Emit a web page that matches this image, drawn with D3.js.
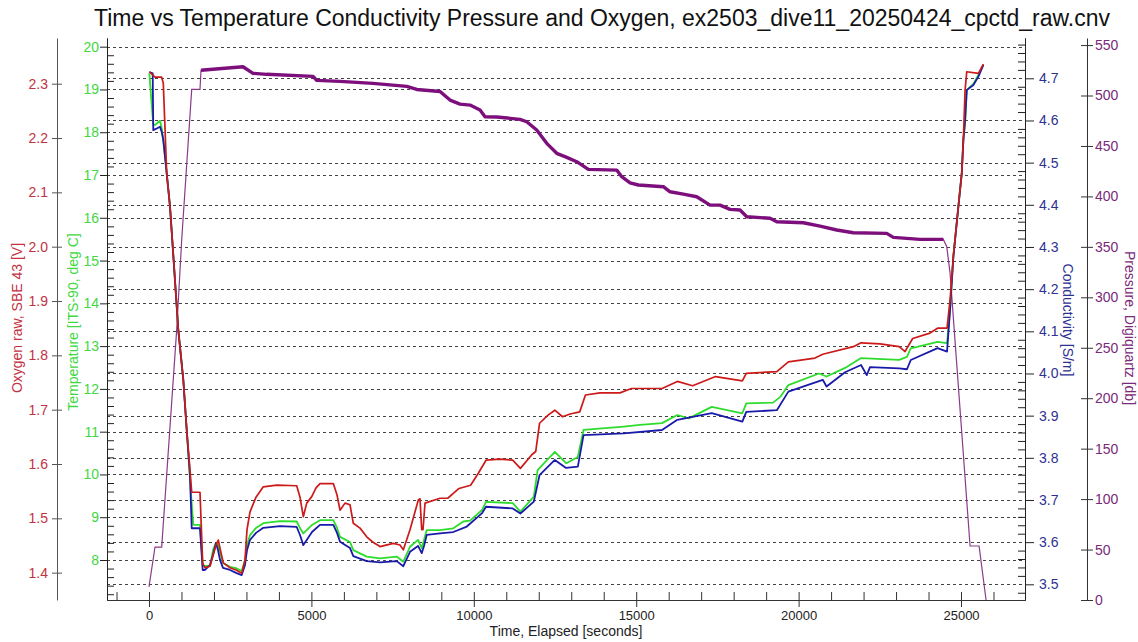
<!DOCTYPE html>
<html>
<head>
<meta charset="utf-8">
<script src="https://cdn.jsdelivr.net/npm/d3@7"></script>
<style>
  body { margin: 0; background: #fff; }
  svg { display: block; font-family: "Liberation Sans", Arial, sans-serif; }
</style>
</head>
<body>
<svg id="chart" width="1138" height="642"></svg>
<script>
// --- data: [elapsed seconds, value] ---
const oxygenData = [
  [10,2.322],[185,2.312],[391,2.312],[440,2.301],[545,2.135],[647,2.074],[717,2.012],[902,1.847],[1056,1.755],[1161,1.663],
  [1262,1.589],[1315,1.548],[1570,1.548],[1653,1.417],[1724,1.409],[1878,1.412],[1971,1.431],[2063,1.451],[2134,1.460],[2186,1.445],
  [2288,1.418],[2494,1.409],[2679,1.405],[2854,1.399],[2956,1.423],[3017,1.479],[3110,1.512],[3295,1.539],[3519,1.558],[3932,1.561],
  [4548,1.560],[4649,1.539],[4751,1.503],[4856,1.528],[5010,1.540],[5142,1.556],[5265,1.564],[5675,1.564],[5789,1.543],[5881,1.515],
  [6035,1.528],[6189,1.525],[6290,1.491],[6497,1.482],[6703,1.466],[6897,1.456],[7112,1.448],[7522,1.454],[7728,1.451],[7830,1.442],
  [8036,1.479],[8292,1.534],[8344,1.536],[8396,1.479],[8436,1.479],[8498,1.528],[8960,1.537],[9197,1.537],[9369,1.546],[9545,1.555],
  [9902,1.561],[10139,1.583],[10376,1.607],[10807,1.609],[11198,1.607],[11435,1.592],[11786,1.617],[11906,1.623],[12024,1.675],[12285,1.690],
  [12495,1.699],[12732,1.687],[12963,1.692],[13261,1.696],[13437,1.727],[13886,1.731],[14499,1.731],[14853,1.739],[15795,1.739],[16266,1.752],
  [16737,1.744],[17443,1.761],[18268,1.753],[18388,1.767],[19330,1.770],[19684,1.788],[20506,1.795],[20743,1.802],[21685,1.816],[21922,1.823],
  [22507,1.821],[23098,1.816],[23277,1.807],[23511,1.831],[24044,1.841],[24278,1.850],[24570,1.850],[24663,1.902],[24764,1.982],[24918,2.074],
  [25023,2.135],[25072,2.196],[25125,2.288],[25177,2.322],[25535,2.319],[25688,2.336]
];

const temperatureData = [
  [10,19.38],[132,18.17],[185,18.17],[339,18.27],[391,18.10],[440,17.82],[545,17.04],[647,16.26],[717,15.48],[902,13.38],
  [1056,12.21],[1161,11.04],[1262,9.87],[1364,8.82],[1570,8.82],[1653,7.88],[1724,7.86],[1878,7.86],[1971,8.23],[2063,8.40],
  [2125,8.35],[2186,8.19],[2278,7.93],[2494,7.84],[2679,7.81],[2854,7.74],[2956,8.00],[3017,8.35],[3110,8.58],[3295,8.75],
  [3519,8.86],[4034,8.91],[4548,8.90],[4649,8.75],[4751,8.62],[4856,8.70],[5019,8.82],[5265,8.93],[5675,8.93],[5789,8.75],
  [5881,8.54],[6189,8.42],[6290,8.23],[6703,8.08],[7112,8.04],[7626,8.08],[7830,7.96],[8036,8.31],[8283,8.47],[8396,8.28],
  [8467,8.47],[8550,8.70],[8960,8.70],[9369,8.74],[9677,8.90],[9884,8.92],[10256,9.17],[10376,9.36],[11198,9.33],[11435,9.13],
  [11848,9.48],[11965,10.10],[12193,10.29],[12495,10.53],[12849,10.26],[13203,10.41],[13378,11.04],[14616,11.12],[15118,11.16],[15795,11.20],
  [16266,11.39],[16620,11.31],[17325,11.58],[18268,11.43],[18388,11.66],[19213,11.68],[19447,11.82],[19684,12.09],[20627,12.36],[20860,12.29],
  [21430,12.49],[21922,12.72],[23098,12.68],[23336,12.75],[23453,12.95],[24278,13.10],[24570,13.07],[24663,13.84],[24764,15.09],[24918,16.26],
  [25023,17.04],[25072,17.82],[25125,18.17],[25177,18.99],[25381,19.13],[25535,19.34],[25688,19.57]
];

const conductivityData = [
  [10,4.715],[114,4.712],[132,4.577],[237,4.581],[339,4.585],[391,4.573],[440,4.554],[545,4.475],[647,4.395],[717,4.316],
  [902,4.103],[1056,3.985],[1161,3.866],[1262,3.759],[1315,3.633],[1570,3.633],[1653,3.534],[1724,3.534],[1878,3.546],[1971,3.570],
  [2063,3.598],[2125,3.581],[2186,3.558],[2278,3.539],[2494,3.534],[2679,3.527],[2854,3.522],[2956,3.546],[3017,3.581],[3110,3.605],
  [3295,3.622],[3519,3.634],[4034,3.638],[4548,3.636],[4649,3.617],[4751,3.593],[4856,3.605],[5019,3.624],[5265,3.641],[5675,3.641],
  [5789,3.622],[5881,3.601],[6189,3.586],[6290,3.567],[6703,3.555],[7112,3.552],[7626,3.555],[7830,3.543],[8036,3.577],[8283,3.591],
  [8396,3.574],[8467,3.591],[8550,3.617],[8960,3.621],[9369,3.624],[9785,3.637],[10256,3.669],[10376,3.684],[11198,3.680],[11435,3.668],
  [11848,3.696],[12024,3.759],[12495,3.795],[12840,3.776],[13203,3.779],[13378,3.854],[14616,3.858],[15795,3.866],[16266,3.890],[17325,3.906],
  [18268,3.886],[18388,3.909],[19330,3.913],[19684,3.957],[20743,3.985],[20860,3.969],[21430,4.003],[21922,4.020],[22098,3.996],[22199,4.015],
  [23098,4.012],[23336,4.010],[23453,4.032],[24278,4.060],[24570,4.052],[24663,4.151],[24764,4.277],[24918,4.395],[25023,4.475],[25072,4.554],
  [25125,4.601],[25177,4.672],[25381,4.684],[25535,4.704],[25688,4.732]
];

const pressureData = [
  [0,13],[185,52.5],[391,52.5],[853,268],[1007,357],[1315,506],[1570,506],[1601,525],[2894,528.5],[3202,522],
  [3624,521],[5050,519],[5163,515],[5881,514],[6897,512],[7935,509],[8243,506],[8960,504],[9268,495.5],[9576,491.5],
  [9884,490.5],[10192,485.6],[10345,479],[10706,478.7],[11423,476.4],[11629,474],[11937,465.8],[12245,452.6],[12553,442.7],[12861,438.7],
  [13169,434.4],[13526,426.8],[14400,426.1],[14554,419.5],[14810,413.5],[15066,411.3],[15836,409.6],[16042,404.6],[16451,402.3],[16864,399.7],
  [17273,391.4],[17581,391.4],[17889,387.2],[18197,386.5],[18403,379.9],[19121,378.3],[19327,374.9],[20146,373.9],[20660,370.6],[21174,366.7],
  [21685,364],[22713,363.4],[22917,359.4],[23739,357.4],[24456,357.4],[24561,350.1],[24663,324],[25279,53.5],[25556,53.5],[25771,0]
];

// tick labels
const timeTicks = [0, 5000, 10000, 15000, 20000, 25000];
const oxygenTicks = [1.4, 1.5, 1.6, 1.7, 1.8, 1.9, 2.0, 2.1, 2.2, 2.3];
const tempTicks = [8, 9, 10, 11, 12, 13, 14, 15, 16, 17, 18, 19, 20];
const condTicks = [3.5, 3.6, 3.7, 3.8, 3.9, 4.0, 4.1, 4.2, 4.3, 4.4, 4.5, 4.6, 4.7];
const pressureTicks = [0, 50, 100, 150, 200, 250, 300, 350, 400, 450, 500, 550];

const titleText = "Time vs Temperature Conductivity Pressure and Oxygen, ex2503_dive11_20250424_cpctd_raw.cnv";

const colors = {
  oxygen: "#cc1a1a", oxygenText: "#c3323f",
  temp: "#2edc2e", tempText: "#3fd83f",
  cond: "#1a1aaa", condText: "#2e3192",
  pressure: "#7d0f7d", pressureText: "#7a2a7a"
};

const svg = d3.select("#chart");
const plotLeft = 107, plotRight = 1025, plotTop = 38, plotBottom = 600;

// scales
const x = d3.scaleLinear().domain([-1293, 26970]).range([plotLeft, plotRight]);
const yO = d3.scaleLinear().domain([1.3497, 2.3841]).range([plotBottom, plotTop]);
const yT = d3.scaleLinear().domain([7.065, 20.203]).range([plotBottom, plotTop]);
const yC = d3.scaleLinear().domain([3.4628, 4.7956]).range([plotBottom, plotTop]);
const yP = d3.scaleLinear().domain([0, 557]).range([plotBottom, plotTop]);

// dotted grid lines at temperature and conductivity ticks
const grid = svg.append("g").attr("stroke", "#444").attr("stroke-dasharray", "3,3").attr("stroke-width", 1);
tempTicks.forEach(t => {
  const yy = Math.round(yT(t)) + 0.5;
  grid.append("line").attr("x1", plotLeft).attr("x2", plotRight).attr("y1", yy).attr("y2", yy);
});
condTicks.forEach(c => {
  const yy = Math.round(yC(c)) + 0.5;
  grid.append("line").attr("x1", plotLeft).attr("x2", plotRight).attr("y1", yy).attr("y2", yy);
});

// helper to style an axis
function styleAxis(g, lineColor, textColor, fontSize) {
  g.select(".domain").attr("stroke", lineColor);
  g.selectAll(".tick line").attr("stroke", lineColor);
  g.selectAll(".tick text").attr("fill", textColor).attr("font-size", fontSize).attr("font-family", null);
}

// minor tick values (positions only)
const tempMinor = d3.range(7.2, 20.2, 0.2).filter(v => Math.abs(v - Math.round(v)) > 0.01);
const condMinor = d3.range(3.48, 4.79, 0.02).filter(v => Math.abs(v * 10 - Math.round(v * 10)) > 0.01);
const timeMinor = d3.range(-1000, 27000, 1000).filter(v => v % 5000 !== 0);

// oxygen axis (far left)
const gO = svg.append("g").attr("transform", "translate(57,0)")
  .call(d3.axisLeft(yO).tickValues(oxygenTicks).tickFormat(d3.format(".1f")).tickSizeInner(5).tickSizeOuter(0).tickPadding(4));
gO.selectAll(".tick line").attr("x1", 5);
styleAxis(gO, "#555", colors.oxygenText, 14);

// temperature axis
const gTm = svg.append("g").attr("transform", `translate(${plotLeft},0)`)
  .call(d3.axisLeft(yT).tickValues(tempMinor).tickFormat("").tickSizeInner(-7).tickSizeOuter(0));
styleAxis(gTm, "#222", colors.tempText, 14);
const gT = svg.append("g").attr("transform", `translate(${plotLeft},0)`)
  .call(d3.axisLeft(yT).tickValues(tempTicks).tickFormat(d3.format("d")).tickSizeInner(7).tickSizeOuter(0).tickPadding(1));
styleAxis(gT, "#222", colors.tempText, 14);

// conductivity axis
const gCm = svg.append("g").attr("transform", `translate(${plotRight},0)`)
  .call(d3.axisRight(yC).tickValues(condMinor).tickFormat("").tickSizeInner(-7).tickSizeOuter(0));
styleAxis(gCm, "#222", colors.condText, 14);
const gC = svg.append("g").attr("transform", `translate(${plotRight},0)`)
  .call(d3.axisRight(yC).tickValues(condTicks).tickFormat(d3.format(".1f")).tickSizeInner(9).tickSizeOuter(0).tickPadding(5));
styleAxis(gC, "#222", colors.condText, 14);

// pressure axis (far right)
const gP = svg.append("g").attr("transform", "translate(1087,0)")
  .call(d3.axisRight(yP).tickValues(pressureTicks).tickFormat(d3.format("d")).tickSizeInner(6).tickSizeOuter(0).tickPadding(2));
gP.selectAll(".tick line").attr("x1", -6);
styleAxis(gP, "#333", colors.pressureText, 14);

// time axis
const gXm = svg.append("g").attr("transform", `translate(0,${plotBottom})`)
  .call(d3.axisBottom(x).tickValues(timeMinor).tickFormat("").tickSizeInner(-8).tickSizeOuter(0));
styleAxis(gXm, "#333", "#222", 13);
const gX = svg.append("g").attr("transform", `translate(0,${plotBottom})`)
  .call(d3.axisBottom(x).tickValues(timeTicks).tickFormat(d3.format("d")).tickSizeInner(7).tickSizeOuter(0).tickPadding(4));
gX.selectAll(".tick line").attr("y1", -8);
styleAxis(gX, "#333", "#222", 13);

// data lines
const lineOf = yScale => d3.line().x(d => x(d[0])).y(d => yScale(d[1]));

svg.append("path").datum(pressureData)
  .attr("fill", "none").attr("stroke", "#8a3a8a").attr("stroke-width", 1.2)
  .attr("d", lineOf(yP));
// bottom-time part of the pressure trace is noisy, drawn thicker
svg.append("path").datum(pressureData.filter(d => d[0] >= 1601 && d[0] <= 24456))
  .attr("fill", "none").attr("stroke", colors.pressure).attr("stroke-width", 3.4)
  .attr("stroke-linejoin", "round").attr("d", lineOf(yP));

svg.append("path").datum(temperatureData)
  .attr("fill", "none").attr("stroke", colors.temp).attr("stroke-width", 1.8)
  .attr("stroke-linejoin", "round").attr("d", lineOf(yT));
svg.append("path").datum(conductivityData)
  .attr("fill", "none").attr("stroke", colors.cond).attr("stroke-width", 1.8)
  .attr("stroke-linejoin", "round").attr("d", lineOf(yC));
svg.append("path").datum(oxygenData)
  .attr("fill", "none").attr("stroke", colors.oxygen).attr("stroke-width", 1.7)
  .attr("stroke-linejoin", "round").attr("d", lineOf(yO));

// titles
svg.append("text").attr("x", 602).attr("y", 26).attr("text-anchor", "middle")
  .attr("font-size", 23).attr("fill", "#111").text(titleText);

svg.append("text").attr("x", 566).attr("y", 636).attr("text-anchor", "middle")
  .attr("font-size", 14).attr("fill", "#222").text("Time, Elapsed [seconds]");

svg.append("text").attr("transform", "translate(17,318) rotate(-90)").attr("text-anchor", "middle")
  .attr("dy", "0.35em").attr("font-size", 14).attr("fill", colors.oxygenText).text("Oxygen raw, SBE 43 [V]");
svg.append("text").attr("transform", "translate(73,322) rotate(-90)").attr("text-anchor", "middle")
  .attr("dy", "0.35em").attr("font-size", 14).attr("fill", colors.tempText).text("Temperature [ITS-90, deg C]");
svg.append("text").attr("transform", "translate(1068,320) rotate(90)").attr("text-anchor", "middle")
  .attr("dy", "0.35em").attr("font-size", 14).attr("fill", colors.condText).text("Conductivity [S/m]");
svg.append("text").attr("transform", "translate(1130,328) rotate(90)").attr("text-anchor", "middle")
  .attr("dy", "0.35em").attr("font-size", 14).attr("fill", colors.pressureText).text("Pressure, Digiquartz [db]");
</script>
</body>
</html>
